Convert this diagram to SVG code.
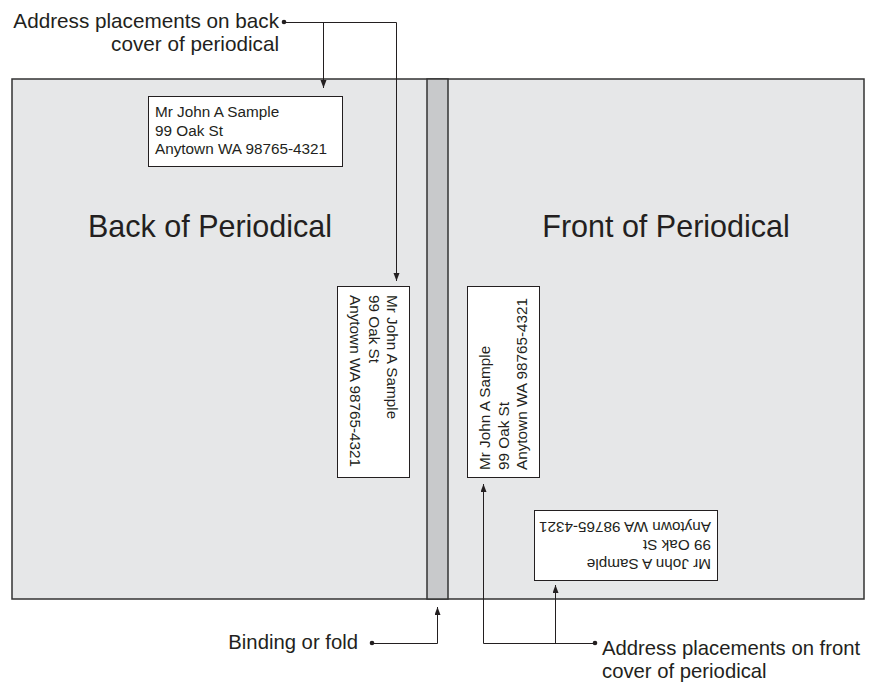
<svg xmlns="http://www.w3.org/2000/svg" width="869" height="682" viewBox="0 0 869 682">
  <style>
    .t { font-family: "Liberation Sans", Arial, sans-serif; fill: #231f20; }
    .lbl { font-size: 20.3px; }
    .big { font-size: 30.5px; text-anchor: middle; }
    .addr { font-size: 15.3px; }
    .box { fill: #ffffff; stroke: #231f20; stroke-width: 1; }
    .conn { fill: none; stroke: #231f20; stroke-width: 1; }
    .dot { fill: #231f20; }
  </style>
  <defs>
    <marker id="arr" markerUnits="userSpaceOnUse" markerWidth="9" markerHeight="7" refX="8" refY="3" orient="auto">
      <path d="M0,0 L8,3 L0,6 z" fill="#231f20"/>
    </marker>
  </defs>
  <rect width="869" height="682" fill="#ffffff"/>

  <g id="periodical">
    <rect x="12" y="79" width="852" height="520" fill="#e6e7e8" stroke="#333333" stroke-width="1.5"/>
    <text class="t big" x="210" y="237">Back of Periodical</text>
    <text class="t big" x="666" y="237">Front of Periodical</text>
  </g>

  <g id="binding">
    <rect x="427" y="79" width="21" height="520" fill="#c8c9cb" stroke="#333333" stroke-width="1.5"/>
  </g>

  <g id="back-label-horizontal">
    <rect class="box" x="148.5" y="96.5" width="194" height="70"/>
    <text class="t addr" x="155" y="117"><tspan x="155">Mr John A Sample</tspan><tspan x="155" dy="18.5">99 Oak St</tspan><tspan x="155" dy="18.5">Anytown WA 98765-4321</tspan></text>
  </g>

  <g id="back-label-vertical">
    <rect class="box" x="337.5" y="286.5" width="72" height="191"/>
    <text class="t addr" transform="translate(387,295) rotate(90)"><tspan x="0" y="0">Mr John A Sample</tspan><tspan x="0" dy="18.5">99 Oak St</tspan><tspan x="0" dy="18.5">Anytown WA 98765-4321</tspan></text>
  </g>

  <g id="front-label-vertical">
    <rect class="box" x="467.5" y="286.5" width="72" height="191"/>
    <text class="t addr" transform="translate(490,470) rotate(-90)"><tspan x="0" y="0">Mr John A Sample</tspan><tspan x="0" dy="18.5">99 Oak St</tspan><tspan x="0" dy="18.5">Anytown WA 98765-4321</tspan></text>
  </g>

  <g id="front-label-inverted">
    <rect class="box" x="534.5" y="510.5" width="183" height="70"/>
    <text class="t addr" transform="translate(711,558.5) rotate(180)"><tspan x="0" y="0">Mr John A Sample</tspan><tspan x="0" dy="18.5">99 Oak St</tspan><tspan x="0" dy="18.5">Anytown WA 98765-4321</tspan></text>
  </g>

  <g id="label-back">
    <text class="t lbl" text-anchor="end" x="279" y="28" style="font-size:20.7px"><tspan x="279">Address placements on back</tspan><tspan x="279" dy="23">cover of periodical</tspan></text>
  </g>

  <g id="label-binding">
    <text class="t lbl" text-anchor="end" x="358" y="649">Binding or fold</text>
  </g>

  <g id="label-front">
    <text class="t lbl" x="602" y="655"><tspan x="602">Address placements on front</tspan><tspan x="602" dy="23">cover of periodical</tspan></text>
  </g>

  <g id="connectors">
    <circle class="dot" cx="284" cy="22" r="2.3"/>
    <path class="conn" d="M284,22.5 H396.5 V281" marker-end="url(#arr)"/>
    <path class="conn" d="M323.5,22.5 V88" marker-end="url(#arr)"/>

    <circle class="dot" cx="372" cy="643" r="2.3"/>
    <path class="conn" d="M372,643.5 H437.5 V607" marker-end="url(#arr)"/>

    <circle class="dot" cx="595" cy="643" r="2.3"/>
    <path class="conn" d="M595,643.5 H483.5 V484" marker-end="url(#arr)"/>
    <path class="conn" d="M555.5,643.5 V585" marker-end="url(#arr)"/>
  </g>
</svg>
